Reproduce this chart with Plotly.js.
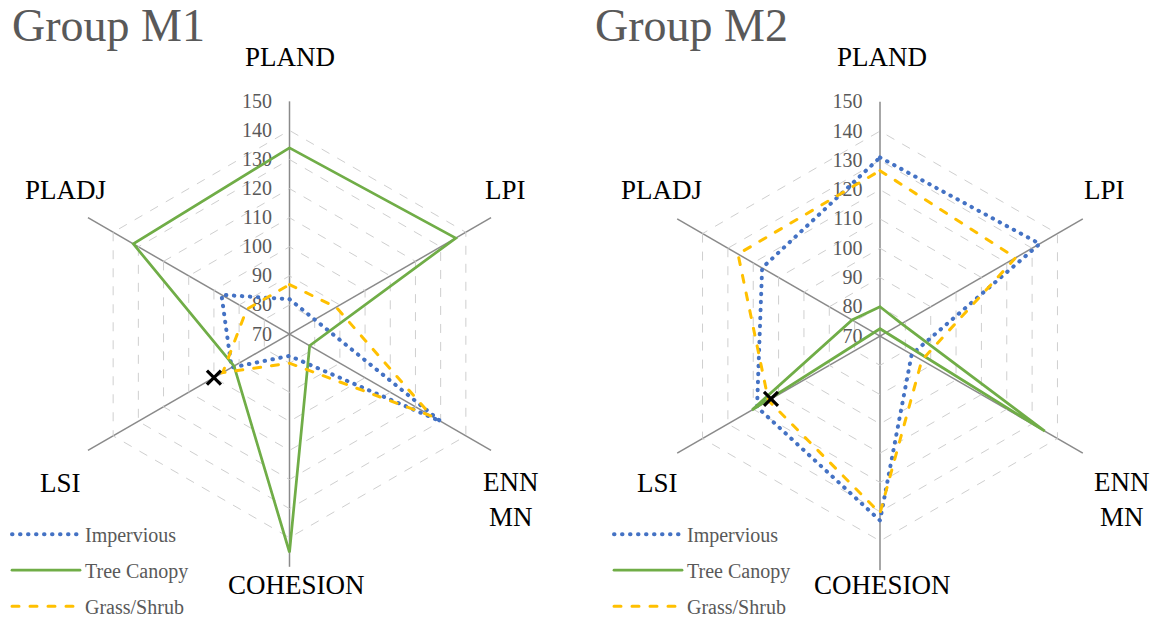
<!DOCTYPE html>
<html>
<head>
<meta charset="utf-8">
<script src="https://cdn.plot.ly/plotly-3.0.1.min.js"></script>
<style>
  html, body { margin: 0; padding: 0; background: #ffffff; }
  #chart { width: 1162px; height: 626px; }
  .js-line { stroke-linecap: round; }
</style>
</head>
<body>
<div id="chart"></div>
<script>
// Landscape metrics (index values) per land-cover class, two groups
const categories = ['PLAND', 'LPI', 'ENN<br>MN', 'COHESION', 'LSI', 'PLADJ'];
const seriesNames = ['Impervious', 'Tree Canopy', 'Grass/Shrub'];

const m1Impervious = [82, 80, 130, 77.5, 93, 97];
const m1TreeCanopy = [134, 136, 78, 145, 92, 132];
const m1GrassShrub = [87, 88.5, 126.5, 80, 96.5, 87];
const m1Marker = [100];          // LSI reference mark

const m2Impervious = [131, 133, 82.5, 133, 118.5, 116.5];
const m2TreeCanopy = [80, 78.5, 135, 67.5, 120.5, 81];
const m2GrassShrub = [126.5, 123.5, 86.5, 130.5, 114, 126];
const m2Marker = [113];          // LSI reference mark

const radialTicks = [70, 80, 90, 100, 110, 120, 130, 140, 150];
const groupTitles = ['Group M1', 'Group M2'];

const SERIF = '"Liberation Serif", "Times New Roman", serif';
const R_MIN = radialTicks[0];
const R_MAX = radialTicks[radialTicks.length - 1];

// Closed radar outline. A value under the axis minimum is plotted the way
// spreadsheet radar charts do it: past the centre, on the opposite spoke.
function radarPath(values) {
  const n = categories.length;
  const r = [], theta = [];
  values.forEach((v, i) => {
    if (v < R_MIN) {
      r.push(2 * R_MIN - v);
      theta.push(categories[(i + n / 2) % n]);
    } else {
      r.push(v);
      theta.push(categories[i]);
    }
  });
  r.push(r[0]);
  theta.push(theta[0]);
  return { r, theta };
}

const lineStyles = [
  { color: '#4472C4', width: 4, dash: '0.5px,7.5px' },
  { color: '#70AD47', width: 2.75, dash: 'solid' },
  { color: '#FFC000', width: 3, dash: '7px,11px' }
];

function groupTraces(seriesValues, markerValue, subplot, legendId) {
  const traces = seriesValues.map((vals, k) => {
    const p = radarPath(vals);
    return {
      type: 'scatterpolar',
      mode: 'lines',
      r: p.r,
      theta: p.theta,
      name: seriesNames[k],
      subplot: subplot,
      legend: legendId,
      legendgroup: legendId + k,
      line: lineStyles[k],
      hoverinfo: 'skip'
    };
  });
  traces.push({
    type: 'scatterpolar',
    mode: 'markers',
    r: markerValue,
    theta: [categories[4]],
    subplot: subplot,
    showlegend: false,
    marker: { symbol: 'x-thin', size: 14, line: { width: 3.2, color: '#000000' } },
    hoverinfo: 'skip'
  });
  return traces;
}

const data = [
  ...groupTraces([m1Impervious, m1TreeCanopy, m1GrassShrub], m1Marker, 'polar', 'legend'),
  ...groupTraces([m2Impervious, m2TreeCanopy, m2GrassShrub], m2Marker, 'polar2', 'legend2')
];

const W = 1162, H = 626;
function domainFor(cx, cy, rad) {
  return {
    x: [(cx - rad) / W, (cx + rad) / W],
    y: [(H - cy - rad) / H, (H - cy + rad) / H]
  };
}

function polarLayout(domain) {
  return {
    domain: domain,
    gridshape: 'linear',
    bgcolor: 'rgba(0,0,0,0)',
    radialaxis: {
      range: [R_MIN, R_MAX],
      tickvals: radialTicks,
      angle: 90,
      tickangle: 90,
      side: 'counterclockwise',
      showline: false,
      ticks: 'outside',
      ticklen: 10,
      tickcolor: 'rgba(0,0,0,0)',
      gridcolor: '#cfcfcf',
      griddash: 'dash',
      gridwidth: 1,
      tickfont: { family: SERIF, size: 20, color: '#595959' },
      layer: 'below traces'
    },
    angularaxis: {
      type: 'category',
      categoryorder: 'array',
      categoryarray: categories,
      rotation: 90,
      direction: 'clockwise',
      showline: false,
      ticks: '',
      showticklabels: false,
      gridcolor: '#8a8a8a',
      gridwidth: 1.5,
      layer: 'below traces'
    }
  };
}

// Spoke label placement (px, text centre) for each group
const labelPos1 = [[290, 58], [505, 193], [511, 508], [296, 595], [60, 491], [65, 193]];
const labelPos2 = [[882, 58], [1104, 193], [1122, 508], [882, 595], [657, 491], [661, 193]];

function spokeLabels(pos) {
  return categories.map((c, i) => ({
    xref: 'paper', yref: 'paper',
    x: pos[i][0] / W, y: 1 - pos[i][1] / H,
    xanchor: 'center', yanchor: 'middle',
    text: c, showarrow: false,
    font: { family: SERIF, size: 27, color: '#000000' }
  }));
}

const titleAnnotations = [[10, 26], [593, 26]].map((p, i) => ({
  xref: 'paper', yref: 'paper',
  x: p[0] / W, y: 1 - p[1] / H,
  xanchor: 'left', yanchor: 'middle',
  text: groupTitles[i], showarrow: false,
  font: { family: SERIF, size: 46, color: '#595959' }
}));

function legendLayout(x) {
  return {
    x: x, y: 1 - 523 / H, xanchor: 'left', yanchor: 'top',
    bgcolor: 'rgba(0,0,0,0)', borderwidth: 0,
    font: { family: SERIF, size: 20, color: '#595959' },
    itemwidth: 68,
    traceorder: 'grouped',
    tracegroupgap: 7
  };
}

const layout = {
  width: W, height: H,
  margin: { l: 0, r: 0, t: 0, b: 0 },
  paper_bgcolor: '#ffffff',
  showlegend: true,
  polar: polarLayout(domainFor(289.5, 339.5, 236.5)),
  polar2: polarLayout(domainFor(880, 341.5, 238)),
  legend: legendLayout(7 / W),
  legend2: legendLayout(609 / W),
  annotations: [...titleAnnotations, ...spokeLabels(labelPos1), ...spokeLabels(labelPos2)]
};

Plotly.newPlot('chart', data, layout, { displayModeBar: false, staticPlot: true });
</script>
</body>
</html>
